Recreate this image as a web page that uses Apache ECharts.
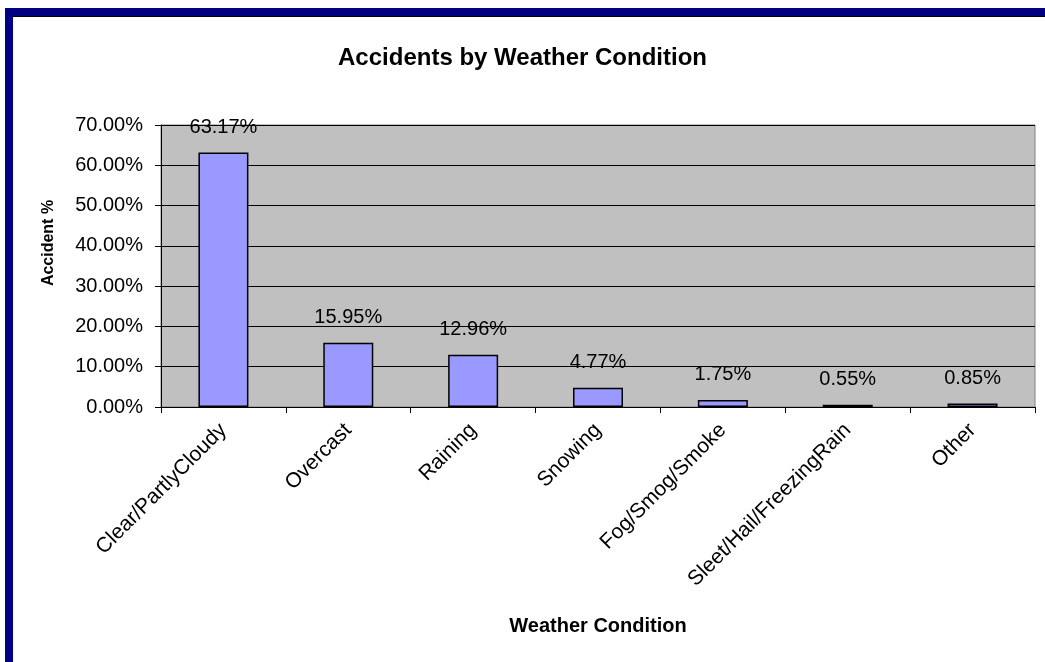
<!DOCTYPE html>
<html>
<head>
<meta charset="utf-8">
<script src="https://cdn.jsdelivr.net/npm/echarts@6/dist/echarts.min.js"></script>
<style>
  html, body { margin: 0; padding: 0; background: #fff; }
  #chart { width: 1045px; height: 662px; }
</style>
</head>
<body>
<div id="chart"></div>
<script>
// weather categories and accident share (%)
const conditions = ['Clear/PartlyCloudy', 'Overcast', 'Raining', 'Snowing', 'Fog/Smog/Smoke', 'Sleet/Hail/FreezingRain', 'Other']
const accidentPct = [63.17, 15.95, 12.96, 4.77, 1.75, 0.55, 0.85]

const font = '"Liberation Sans", Arial, sans-serif'

const option = {
  animation: false,
  backgroundColor: '#fff',
  textStyle: { fontFamily: font, color: '#000' },
  title: {
    text: 'Accidents by Weather Condition',
    left: 'center',
    top: 41,
    textStyle: { fontFamily: font, fontSize: 24, fontWeight: 'bold', color: '#000' }
  },
  // navy frame on top and left edge
  graphic: [
    { type: 'rect', shape: { x: 5, y: 8, width: 1040, height: 8 }, style: { fill: '#000080' } },
    { type: 'rect', shape: { x: 5, y: 16, width: 1040, height: 1 }, style: { fill: '#000' } },
    { type: 'rect', shape: { x: 5, y: 8, width: 8, height: 654 }, style: { fill: '#000080' } }
  ],
  grid: {
    left: 161,
    right: 10,
    top: 125,
    bottom: 255,
    show: true,
    backgroundColor: '#c0c0c0',
    borderColor: '#808080',
    borderWidth: 1
  },
  xAxis: {
    type: 'category',
    data: conditions,
    name: 'Weather Condition',
    nameLocation: 'middle',
    nameGap: 209,
    nameTextStyle: { fontFamily: font, fontSize: 20, fontWeight: 'bold', color: '#000' },
    axisLine: { lineStyle: { color: '#000', width: 1 } },
    axisTick: { show: true, length: 6, lineStyle: { color: '#000' } },
    axisLabel: { interval: 0, rotate: 45, margin: 20, fontSize: 21, fontFamily: font, color: '#000' }
  },
  yAxis: {
    type: 'value',
    min: 0,
    max: 70,
    interval: 10,
    name: 'Accident %',
    nameLocation: 'middle',
    nameGap: 104,
    nameTextStyle: { fontFamily: font, fontSize: 16, fontWeight: 'bold', color: '#000', padding: [0, 0, 0, 46] },
    axisLine: { show: true, lineStyle: { color: '#000', width: 1 } },
    axisTick: { show: true, length: 6, lineStyle: { color: '#000' } },
    axisLabel: {
      margin: 18,
      fontSize: 20,
      fontFamily: font,
      color: '#000',
      formatter: v => v.toFixed(2) + '%'
    },
    splitLine: { lineStyle: { color: '#000', width: 1 } }
  },
  series: [
    {
      type: 'bar',
      data: accidentPct,
      barWidth: 50,
      itemStyle: { color: '#9999ff', borderColor: '#000', borderWidth: 1.5 },
      label: {
        show: true,
        position: 'top',
        distance: 15,
        fontSize: 20,
        fontFamily: font,
        color: '#000',
        formatter: p => p.value.toFixed(2) + '%'
      }
    }
  ]
}

let chart = echarts.init(document.getElementById('chart'))
chart.setOption(option)
</script>
</body>
</html>
